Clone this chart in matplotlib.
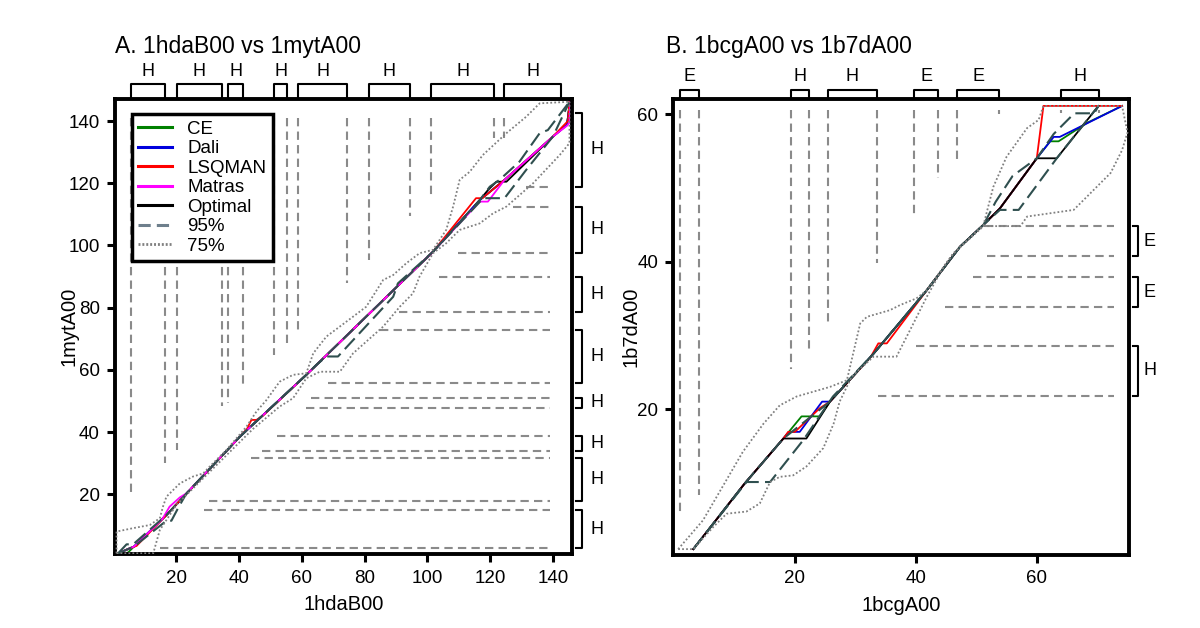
import matplotlib
matplotlib.use("Agg")
import matplotlib.pyplot as plt
from matplotlib.lines import Line2D

plt.rcParams['font.family'] = ['Liberation Sans', 'DejaVu Sans']

# ---------------- panel A : 1hdaB00 vs 1mytA00 ----------------
A_TITLE = "A. 1hdaB00 vs 1mytA00"
A_XLABEL = "1hdaB00"
A_YLABEL = "1mytA00"

# SSE segments of the x protein (top brackets) and y protein (right brackets)
A_TOP_SSE = [(5.5, 16.5), (20.2, 34.4), (36.5, 41.2), (51.1, 55.4),
             (58.8, 74.4), (81.3, 94.4), (101.3, 121.2), (124.4, 142.7)]
A_TOP_LAB = ["H", "H", "H", "H", "H", "H", "H", "H"]
A_RIGHT_SSE = [(2.6, 15.0), (17.9, 31.8), (34.0, 38.7), (47.8, 50.9),
               (55.7, 72.8), (78.7, 89.8), (97.7, 112.5), (118.9, 142.5)]
A_RIGHT_LAB = ["H", "H", "H", "H", "H", "H", "H", "H"]

# guide lines at SSE boundaries
A_VX = [5.5, 16.5, 20.2, 34.4, 36.5, 41.2, 51.1, 55.4, 58.8, 74.4, 81.3, 94.4, 101.3, 121.2, 124.4]
A_VLOW = [19.8, 30.0, 34.2, 48.4, 49.5, 55.1, 64.8, 68.5, 71.8, 87.8, 95.3, 109.5, 114.9, 134.5, 134.5]
A_VTOP = 141.0
A_HY = [2.6, 15.0, 17.9, 31.8, 34.0, 38.7, 47.8, 50.9, 55.7, 72.8, 78.7, 89.8, 97.7, 112.5, 118.9]
A_HLEFT = [14.9, 28.7, 30.3, 43.9, 47.4, 52.2, 61.4, 62.8, 68.3, 84.8, 91.0, 103.7, 109.8, 127.3, 131.5]
A_HRIGHT = 139.2

# alignments
A_OPT_X = [1.4, 6.5, 16.8, 40.2, 61.4, 101.8, 116.7, 119.3, 122.0, 125.2, 140.0, 144.5, 145.5]
A_OPT_Y = [1.0, 3.2, 13.3, 38.5, 58.4, 98.0, 114.6, 117.8, 120.5, 120.5, 135.0, 138.8, 146.5]
A_CE_X = [1.4, 4.5, 6.5, 16.8, 40.2, 61.4, 101.8, 116.7, 124.6, 140.0, 144.5, 145.5]
A_CE_Y = [1.0, 1.2, 3.2, 13.3, 38.5, 58.4, 98.0, 114.6, 121.1, 135.0, 138.8, 146.5]
A_DALI_X = [1.4, 6.5, 16.8, 40.2, 61.4, 101.8, 116.7, 124.6, 140.0, 144.5, 145.5]
A_DALI_Y = [1.0, 3.2, 13.3, 38.5, 58.4, 98.0, 114.6, 121.1, 135.0, 138.8, 146.5]
A_LSQ_X = [1.4, 5.1, 7.3, 16.8, 40.2, 42.5, 43.9, 45.5, 47.5, 61.4, 101.8, 115.5, 117.5, 124.6, 140.0, 144.8, 145.3]
A_LSQ_Y = [1.0, 2.6, 3.4, 13.3, 38.5, 41.0, 43.9, 43.9, 45.2, 58.4, 98.0, 115.2, 115.2, 121.1, 135.0, 140.0, 146.5]
A_MAT_X = [1.4, 6.5, 15.5, 17.8, 21.1, 23.2, 40.2, 61.4, 101.8, 116.7, 119.3, 124.6, 140.0, 144.5, 145.3, 145.6]
A_MAT_Y = [1.0, 3.2, 12.0, 16.0, 19.0, 20.3, 38.5, 58.4, 98.0, 114.1, 114.1, 121.1, 135.0, 138.5, 139.5, 146.5]

A_U95_X = [1.4, 4.1, 6.2, 16.8, 40.2, 61.4, 101.8, 116.7, 119.9, 123.0, 129.4, 135.8, 138.4, 145.3]
A_U95_Y = [1.0, 3.9, 3.9, 13.3, 38.5, 58.4, 98.0, 114.6, 118.9, 121.1, 127.0, 136.1, 137.1, 146.2]
A_L95_X = [1.4, 6.5, 16.8, 18.4, 20.5, 23.2, 40.2, 61.4, 64.5, 67.8, 71.5, 89.1, 90.6, 101.8,
           116.7, 117.7, 124.6, 131.5, 140.0, 145.3]
A_L95_Y = [1.0, 3.2, 11.5, 11.5, 15.5, 20.3, 38.5, 58.4, 61.5, 64.3, 64.3, 83.5, 87.8, 98.0,
           114.0, 115.2, 115.2, 124.3, 135.0, 146.2]

A_U75_X = [0.9, 0.9, 6.2, 11.5, 14.7, 15.7, 16.8, 21.1, 25.3, 28.5, 30.6, 35.9, 42.3, 45.5, 48.7,
           52.9, 57.2, 61.4, 63.6, 67.8, 76.3, 80.5, 85.9, 89.1, 93.3, 97.5, 101.8, 106.0, 108.2,
           110.3, 113.5, 117.7, 125.2, 131.5, 135.8, 145.3]
A_U75_Y = [1.0, 8.0, 9.1, 10.1, 12.3, 16.0, 19.2, 23.5, 25.7, 26.7, 28.9, 34.2, 41.7, 46.6, 50.3,
           56.2, 58.4, 58.9, 65.3, 70.7, 77.1, 80.3, 88.9, 90.5, 94.3, 97.5, 98.6, 105.0, 112.5,
           121.1, 123.7, 129.1, 136.1, 141.4, 145.7, 146.2]
A_L75_X = [0.9, 12.6, 14.7, 20.0, 27.4, 35.9, 44.4, 52.9, 57.2, 61.4, 65.7, 72.1, 76.3, 85.9,
           91.2, 95.4, 97.5, 101.8, 106.0, 110.3, 116.7, 120.9, 125.2, 133.7, 142.2, 145.3, 145.3]
A_L75_Y = [1.0, 1.0, 8.5, 16.6, 24.0, 32.5, 41.0, 48.2, 50.9, 57.3, 59.4, 59.4, 65.3, 73.9,
           80.3, 84.6, 90.0, 97.5, 100.7, 105.0, 107.1, 110.3, 112.5, 120.0, 129.1, 132.9, 146.2]

# ---------------- panel B : 1bcgA00 vs 1b7dA00 ----------------
B_TITLE = "B. 1bcgA00 vs 1b7dA00"
B_XLABEL = "1bcgA00"
B_YLABEL = "1b7dA00"

B_TOP_SSE = [(1.07, 4.1), (19.3, 22.4), (25.4, 33.6), (39.7, 43.7), (46.8, 53.8), (64.0, 70.3)]
B_TOP_LAB = ["E", "H", "H", "E", "E", "H"]
B_RIGHT_SSE = [(21.8, 28.6), (33.8, 37.9), (40.7, 44.8)]
B_RIGHT_LAB = ["H", "E", "E"]

B_VX = [1.07, 4.1, 19.3, 22.4, 25.4, 33.6, 39.7, 43.7, 46.8, 53.8, 64.0, 70.3]
B_VLOW = [5.5, 8.3, 25.4, 27.8, 31.4, 39.8, 46.3, 51.3, 53.8, 60.0, 60.1, 60.1]
B_VTOP = 60.5
B_HY = [21.8, 28.6, 33.8, 37.9, 40.7, 44.8]
B_HLEFT = [33.8, 40.1, 44.8, 49.4, 51.7, 51.5]
B_HRIGHT = 72.7

B_OPT_X = [3.2, 11.7, 18.1, 21.9, 25.8, 33.0, 41.8, 47.3, 51.2, 53.9, 60.0, 63.3, 70.2]
B_OPT_Y = [1.0, 9.9, 16.0, 16.0, 21.0, 27.5, 36.1, 42.0, 45.0, 47.2, 54.0, 54.0, 61.1]
B_CE_X = [3.2, 11.7, 18.1, 21.1, 24.1, 25.8, 33.0, 41.8, 47.3, 51.2, 53.9, 60.0, 62.2, 63.6, 68.3, 74.1]
B_CE_Y = [1.0, 9.9, 16.0, 19.0, 19.0, 21.0, 27.5, 36.1, 42.0, 45.0, 47.2, 54.0, 56.3, 56.3, 58.8, 61.1]
B_DALI_X = [3.2, 11.7, 18.1, 19.0, 20.8, 24.5, 25.8, 33.0, 41.8, 47.3, 51.2, 53.9, 60.0, 62.8, 63.8, 74.1]
B_DALI_Y = [1.0, 9.9, 16.0, 16.9, 16.9, 21.0, 21.0, 27.5, 36.1, 42.0, 45.0, 47.2, 54.0, 56.9, 56.9, 61.1]
B_LSQ_X = [3.2, 11.7, 18.1, 18.9, 20.0, 24.1, 25.8, 32.5, 33.8, 35.2, 41.8, 47.3, 51.2, 53.9, 60.0, 61.1, 74.1]
B_LSQ_Y = [1.0, 9.9, 16.0, 16.9, 16.9, 20.1, 21.0, 27.0, 28.9, 28.9, 36.1, 42.0, 45.0, 47.2, 54.0, 61.1, 61.1]

B_U95_X = [3.2, 11.7, 18.1, 25.8, 33.0, 41.8, 47.3, 51.2, 53.2, 56.0, 60.0, 62.8, 66.2, 69.5, 70.2]
B_U95_Y = [1.0, 9.9, 16.0, 21.0, 27.5, 36.1, 42.0, 45.0, 48.1, 51.6, 54.0, 57.3, 60.1, 60.1, 61.1]
B_L95_X = [3.2, 12.0, 15.9, 21.4, 26.3, 33.0, 41.8, 47.3, 51.2, 53.9, 57.0, 63.3, 66.1, 70.2]
B_L95_Y = [1.0, 10.1, 10.1, 15.8, 21.7, 27.5, 36.1, 42.0, 45.0, 47.0, 47.0, 54.0, 56.9, 61.1]

B_U75_X = [0.7, 4.8, 11.4, 14.8, 17.5, 20.3, 25.8, 28.6, 30.8, 31.9, 35.7, 37.4, 40.1, 41.8,
           46.2, 51.2, 52.8, 55.0, 58.4, 60.3, 61.1, 74.1]
B_U75_Y = [1.0, 4.9, 14.2, 18.0, 20.5, 21.7, 23.0, 23.9, 31.6, 32.5, 33.4, 34.1, 35.0, 36.1,
           41.1, 45.0, 50.1, 54.2, 58.1, 59.2, 61.1, 61.1]
B_L75_X = [0.7, 3.2, 6.5, 8.7, 12.0, 14.2, 15.9, 17.5, 19.7, 21.9, 24.7, 26.4, 27.4, 29.4, 33.0,
           36.8, 39.6, 41.8, 44.6, 46.2, 51.2, 57.3, 58.4, 66.1, 68.3, 72.2, 74.1, 75.0, 74.1]
B_L75_Y = [1.0, 1.0, 4.0, 5.8, 6.1, 7.2, 10.1, 10.8, 11.0, 12.2, 14.7, 18.0, 21.0, 24.4, 27.1,
           27.1, 31.6, 35.2, 39.3, 41.1, 44.8, 44.8, 46.1, 47.0, 48.8, 52.0, 55.1, 57.5, 61.1]

C_CE = "#008000"
C_DALI = "#0000dd"
C_LSQ = "#ff0000"
C_MAT = "#ff00ff"
C_OPT = "#000000"
C_95 = "#2f4f4f"
C_75 = "#808080"
C_GUIDE = "#8a8a8a"

fig = plt.figure(figsize=(12, 6.28), dpi=100)
axA = fig.add_axes([0.0958, 0.1174, 0.3806, 0.7245])
axB = fig.add_axes([0.5611, 0.1162, 0.3800, 0.7257])


def guides(ax, vx, vlow, vtop, hy, hleft, hright):
    for x, lo in zip(vx, vlow):
        ax.plot([x, x], [vtop, lo], color=C_GUIDE, lw=1.5, dashes=(4, 2.5), zorder=1)
    for y, le in zip(hy, hleft):
        ax.plot([le, hright], [y, y], color=C_GUIDE, lw=1.5, dashes=(4, 2.5), zorder=1)


def brackets(ax, top, top_lab, right, right_lab, ty, tlab_y, rx, rlab_x):
    tr = ax.get_xaxis_transform()
    for (a, b), lab in zip(top, top_lab):
        ax.plot([a, a, b, b], [ty[0], ty[1], ty[1], ty[0]], color="black", lw=1.5,
                transform=tr, clip_on=False)
        ax.text((a + b) / 2, tlab_y, lab, transform=tr, ha="center", va="center", fontsize=13)
    tr = ax.get_yaxis_transform()
    for (a, b), lab in zip(right, right_lab):
        ax.plot([rx[0], rx[1], rx[1], rx[0]], [a, a, b, b], color="black", lw=1.5,
                transform=tr, clip_on=False)
        ax.text(rlab_x, (a + b) / 2, lab, transform=tr, ha="center", va="center", fontsize=13)


def style(ax, xlim, ylim, ticks_x, ticks_y, xlabel, ylabel, ylab_x):
    ax.set_xlim(*xlim)
    ax.set_ylim(*ylim)
    ax.set_xticks(ticks_x)
    ax.set_yticks(ticks_y)
    for s in ax.spines.values():
        s.set_linewidth(2.8)
    ax.tick_params(direction="out", length=6, width=2.2, labelsize=13.5, pad=5)
    ax.set_xlabel(xlabel, fontsize=14.5)
    ax.set_ylabel(ylabel, fontsize=14.5)
    ax.xaxis.set_label_coords(0.5, -0.09)
    ax.yaxis.set_label_coords(ylab_x, 0.5)


# panel A
guides(axA, A_VX, A_VLOW, A_VTOP, A_HY, A_HLEFT, A_HRIGHT)
axA.plot(A_OPT_X, A_OPT_Y, color=C_OPT, lw=1.3, zorder=2)
axA.plot(A_CE_X, A_CE_Y, color=C_CE, lw=1.3, zorder=2)
axA.plot(A_DALI_X, A_DALI_Y, color=C_DALI, lw=1.3, zorder=2)
axA.plot(A_LSQ_X, A_LSQ_Y, color=C_LSQ, lw=1.3, zorder=2)
axA.plot(A_MAT_X, A_MAT_Y, color=C_MAT, lw=1.3, zorder=2)
axA.plot(A_U95_X, A_U95_Y, color=C_95, lw=1.5, dashes=(7, 3), zorder=3)
axA.plot(A_L95_X, A_L95_Y, color=C_95, lw=1.5, dashes=(7, 3), zorder=3)
axA.plot(A_U75_X, A_U75_Y, color=C_75, lw=1.3, linestyle=(0, (1, 1.2)), zorder=3)
axA.plot(A_L75_X, A_L75_Y, color=C_75, lw=1.3, linestyle=(0, (1, 1.2)), zorder=3)
style(axA, (0.4, 146.0), (0.7, 147.0), range(20, 141, 20), range(20, 141, 20),
      A_XLABEL, A_YLABEL, -0.079)
brackets(axA, A_TOP_SSE, A_TOP_LAB, A_RIGHT_SSE, A_RIGHT_LAB,
         (1.006, 1.033), 1.061, (1.009, 1.023), 1.055)

handles = [
    Line2D([], [], color=C_CE, lw=2.2),
    Line2D([], [], color=C_DALI, lw=2.2),
    Line2D([], [], color=C_LSQ, lw=2.2),
    Line2D([], [], color=C_MAT, lw=2.2),
    Line2D([], [], color=C_OPT, lw=2.2),
    Line2D([], [], color="#6e7f8c", lw=2.2, dashes=(4, 2)),
    Line2D([], [], color=C_75, lw=2.0, linestyle=(0, (0.7, 0.7))),
]
labels = ["CE", "Dali", "LSQMAN", "Matras", "Optimal", "95%", "75%"]
leg = axA.legend(handles, labels, loc="upper left", bbox_to_anchor=(0.037, 0.968),
                 borderaxespad=0, fontsize=13.5, frameon=True, fancybox=False,
                 edgecolor="black", framealpha=1, handlelength=1.8, labelspacing=0.13,
                 handletextpad=0.8, borderpad=0.35)
leg.get_frame().set_linewidth(2.5)

# panel B
guides(axB, B_VX, B_VLOW, B_VTOP, B_HY, B_HLEFT, B_HRIGHT)
axB.plot(B_CE_X, B_CE_Y, color=C_CE, lw=1.3, zorder=2)
axB.plot(B_DALI_X, B_DALI_Y, color=C_DALI, lw=1.3, zorder=2)
axB.plot(B_LSQ_X, B_LSQ_Y, color=C_LSQ, lw=1.3, zorder=2)
axB.plot(B_OPT_X, B_OPT_Y, color=C_OPT, lw=1.3, zorder=2)
axB.plot(B_U95_X, B_U95_Y, color=C_95, lw=1.5, dashes=(7, 3), zorder=3)
axB.plot(B_L95_X, B_L95_Y, color=C_95, lw=1.5, dashes=(7, 3), zorder=3)
axB.plot(B_U75_X, B_U75_Y, color=C_75, lw=1.3, linestyle=(0, (1, 1.2)), zorder=3)
axB.plot(B_L75_X, B_L75_Y, color=C_75, lw=1.3, linestyle=(0, (1, 1.2)), zorder=3)
style(axB, (-0.1, 75.3), (0.2, 62.0), [20, 40, 60], [20, 40, 60],
      B_XLABEL, B_YLABEL, -0.073)
brackets(axB, B_TOP_SSE, B_TOP_LAB, B_RIGHT_SSE, B_RIGHT_LAB,
         (1.006, 1.020), 1.050, (1.008, 1.020), 1.045)

fig.text(115 / 1200, 1 - 47 / 628, A_TITLE, fontsize=16.5, ha="left", va="center")
fig.text(666 / 1200, 1 - 47 / 628, B_TITLE, fontsize=16.5, ha="left", va="center")

fig.savefig("out.png", dpi=100)
